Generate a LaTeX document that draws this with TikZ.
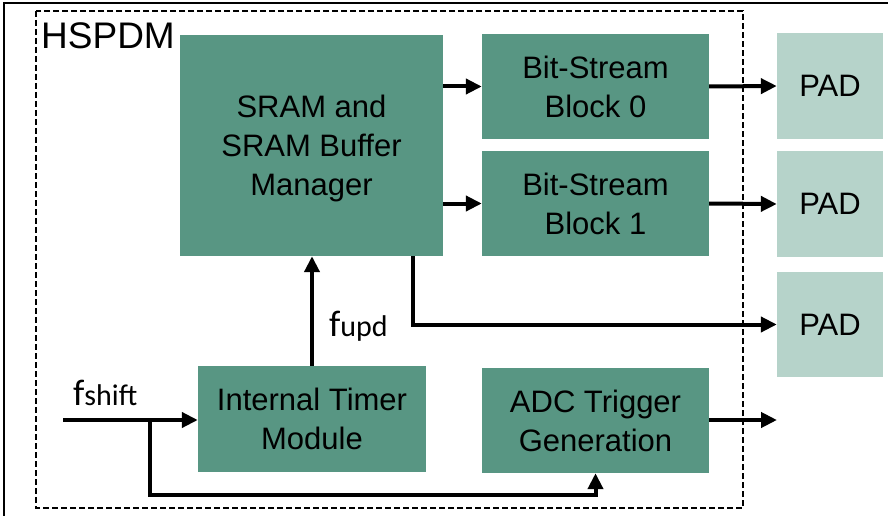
\documentclass[tikz,border=0pt]{standalone}
\usepackage{fontspec}
\setmainfont{Liberation Sans}
\newfontfamily\calfont{Carlito}
\usetikzlibrary{arrows.meta,positioning}
\definecolor{Teal}{RGB}{88,150,131}
\definecolor{PadGreen}{RGB}{182,211,202}
\tikzset{
  box/.style={rectangle,draw=none,font=\fontsize{31}{39}\selectfont,
              align=center,inner sep=0pt},
  blk/.style={box,fill=Teal,text depth=0pt},
  pad/.style={box,fill=PadGreen,minimum width=106pt,minimum height=106pt},
  sig/.style={-{Triangle[length=16pt,width=15pt]},line width=4pt},
  frq/.style={anchor=base west,inner sep=0pt},
}

\begin{document}
\begin{tikzpicture}[x=1pt,y=-1pt]
  \useasboundingbox (0,0) rectangle (888,516);
  % frame and module border
  \draw[line width=2pt] (4,516) -- (4,3) -- (888,3);
  \draw[line width=2pt,dash pattern=on 6pt off 3pt] (36,11) rectangle (743,508);
  \node[anchor=north west,inner sep=0pt,font=\fontsize{37}{40}\selectfont] (hspdm) at (41,22) {HSPDM};

  % blocks
  \node[blk,minimum width=263pt,minimum height=221pt] (sram) at (311.5,145.5) {SRAM and\\SRAM Buffer\\Manager};
  \node[blk,minimum width=227pt,minimum height=105pt] (bsb0) at (595.5,86.5) {Bit-Stream\\Block 0};
  \node[blk,minimum width=227pt,minimum height=105pt] (bsb1) at (595.5,203.5) {Bit-Stream\\Block 1};
  \node[blk,minimum width=228pt,minimum height=106pt] (timer) at (312,419) {Internal Timer\\Module};
  \node[blk,minimum width=227pt,minimum height=105pt] (adc) at (595.5,420.5) {ADC Trigger\\Generation};
  \node[pad] (pad0) at (830,86) {PAD};
  \node[pad] (pad1) at (830,204) {PAD};
  \node[pad,minimum height=105pt] (pad2) at (830,324.5) {PAD};

  % signals
  \draw[sig] (sram.east |- bsb0.west) -- (bsb0.west);
  \draw[sig] (sram.east |- bsb1.west) -- (bsb1.west);
  \draw[sig] (bsb0.east) -- (pad0.west);
  \draw[sig] (bsb1.east) -- (pad1.west);
  \draw[sig] ([xshift=101.5pt]sram.south) |- (pad2.west);
  \draw[sig] (timer.north) -- (timer.north |- sram.south);
  \node[frq] (fupd) at (329,336) {\calfont{\fontsize{37}{40}\selectfont f}{\fontsize{30}{32}\selectfont upd}};

  \coordinate (fin) at (63,420);
  \coordinate (br) at (150,420);
  \coordinate (adcout) at (777,420);
  \draw[sig] (fin) -- (fin -| timer.west);
  \draw[sig] (br) -- (br |- 0,495) -| (adc.south);
  \draw[sig] (adc.east |- adcout) -- (adcout);
  \node[frq] (fshift) at (73,405) {\calfont{\fontsize{37}{40}\selectfont f}{\fontsize{30}{32}\selectfont shift}};
\end{tikzpicture}
\end{document}
